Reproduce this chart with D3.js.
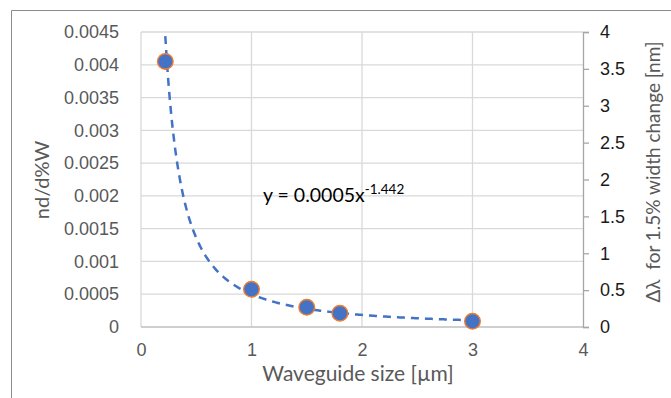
<!DOCTYPE html>
<html>
<head>
<meta charset="utf-8">
<script src="https://cdn.jsdelivr.net/npm/d3@7"></script>
<style>
  html, body { margin: 0; padding: 0; background: #fff; }
  svg { display: block; font-family: "Lato", "Open Sans", sans-serif; }
</style>
</head>
<body>
<svg id="chart" width="671" height="398"></svg>
<script>
// data
const sizes = [0.22, 1, 1.5, 1.8, 3];              // waveguide size [µm]
const ndW = [0.00405, 0.000575, 0.0003, 0.00021, 0.000087];
const xTicks = [0, 1, 2, 3, 4];
const yLeftTicks = [0, 0.0005, 0.001, 0.0015, 0.002, 0.0025, 0.003, 0.0035, 0.004, 0.0045];
const yRightTicks = [0, 0.5, 1, 1.5, 2, 2.5, 3, 3.5, 4];
// power trendline as printed on the chart: y = 0.0005 x^-1.442
const fitA = 0.0005, fitB = -1.442;

const svg = d3.select("#chart");
const m = { left: 141, top: 32, right: 583, bottom: 327 };

const x = d3.scaleLinear().domain([0, 4]).range([m.left, m.right]);
const yL = d3.scaleLinear().domain([0, 0.0045]).range([m.bottom, m.top]);
const yR = d3.scaleLinear().domain([0, 4]).range([m.bottom, m.top]);

// outer chart border (only left & top visible in the crop)
svg.append("path").attr("d", "M11.5,398V10.5H671")
  .attr("fill", "none").attr("stroke", "#8c8c8c").attr("stroke-width", 1);

// grid
const grid = svg.append("g").attr("stroke", "#d9d9d9").attr("stroke-width", 1.3);
grid.selectAll("line.h").data(yLeftTicks.slice(1)).join("line")
  .attr("x1", m.left).attr("x2", m.right)
  .attr("y1", (d) => yL(d)).attr("y2", (d) => yL(d));
grid.selectAll("line.v").data(xTicks.slice(0, 4)).join("line")
  .attr("y1", m.top).attr("y2", m.bottom)
  .attr("x1", (d) => x(d)).attr("x2", (d) => x(d));

// bottom axis line
svg.append("line").attr("x1", m.left).attr("x2", m.right)
  .attr("y1", m.bottom).attr("y2", m.bottom)
  .attr("stroke", "#bfbfbf").attr("stroke-width", 1.3);

// right axis
const rAxis = svg.append("g").attr("transform", `translate(${m.right},0)`)
  .call(d3.axisRight(yR).tickValues(yRightTicks).tickSize(6).tickPadding(11)
    .tickFormat(d3.format("")));
rAxis.select(".domain").attr("stroke", "#a6a6a6").attr("stroke-width", 1.3);
rAxis.selectAll(".tick line").attr("stroke", "#a6a6a6").attr("stroke-width", 1.3);
rAxis.selectAll(".tick text").attr("fill", "#1a1a1a")
  .style("font-size", "18px").attr("font-family", null);

// left axis labels (no line, no ticks)
const lAxis = svg.append("g").attr("transform", `translate(${m.left},0)`)
  .call(d3.axisLeft(yL).tickValues(yLeftTicks).tickSize(0).tickPadding(22)
    .tickFormat((d) => d3.format("")(+d.toFixed(4))));
lAxis.select(".domain").remove();
lAxis.selectAll(".tick text").attr("fill", "#595959")
  .style("font-size", "18px").attr("font-family", null);

// bottom axis labels
const bAxis = svg.append("g").attr("transform", `translate(0,${m.bottom})`)
  .call(d3.axisBottom(x).tickValues(xTicks).tickSize(0).tickPadding(16)
    .tickFormat(d3.format("d")));
bAxis.select(".domain").remove();
bAxis.selectAll(".tick text").attr("fill", "#595959")
  .style("font-size", "18px").attr("font-family", null);

// trendline
const fitX = d3.range(sizes[0], sizes[sizes.length - 1] + 1e-9, 0.01);
svg.append("path")
  .datum(fitX)
  .attr("d", d3.line().x((d) => x(d)).y((d) => yL(fitA * Math.pow(d, fitB))))
  .attr("fill", "none").attr("stroke", "#4472c4").attr("stroke-width", 2.5)
  .attr("stroke-dasharray", "8,6");

// markers
svg.append("g").selectAll("circle").data(sizes).join("circle")
  .attr("cx", (d) => x(d)).attr("cy", (d, i) => yL(ndW[i]))
  .attr("r", 7.8)
  .attr("fill", "#4472c4").attr("stroke", "#ed7d31").attr("stroke-width", 1.4);

// equation label
const eq = svg.append("text").attr("x", 263).attr("y", 202)
  .attr("fill", "#000").style("font-size", "19.5px");
eq.append("tspan").text("y = 0.0005x");
eq.append("tspan").attr("dy", -8).style("font-size", "13.5px").text("-1.442");

// axis titles
svg.append("text").attr("x", 358).attr("y", 381).attr("text-anchor", "middle")
  .attr("fill", "#595959").style("font-size", "21px").text("Waveguide size [µm]");
svg.append("text").attr("transform", "translate(49,180) rotate(-90)")
  .attr("text-anchor", "middle").attr("fill", "#595959").style("font-size", "20px")
  .text("nd/d%W");
svg.append("text").attr("transform", "translate(660,172) rotate(-90)")
  .attr("text-anchor", "middle").attr("fill", "#595959").style("font-size", "19px")
  .style("white-space", "pre").text("Δλ  for 1.5% width change [nm]");
</script>
</body>
</html>
